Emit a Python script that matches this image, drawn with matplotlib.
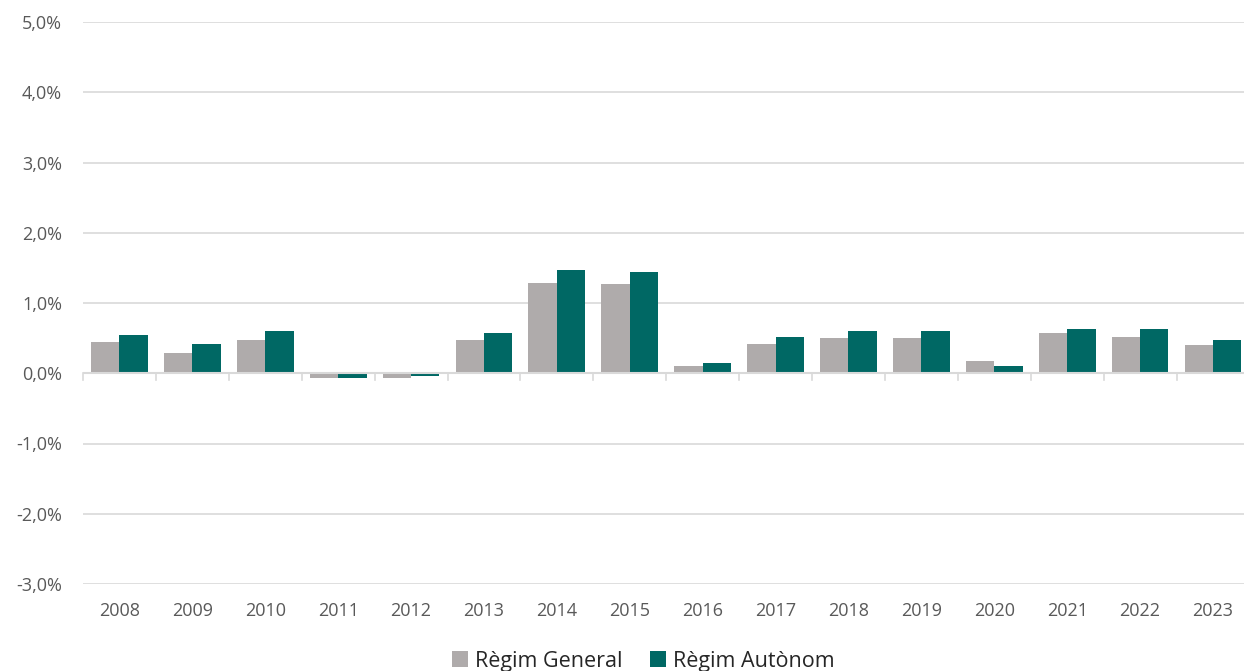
import matplotlib.pyplot as plt
import numpy as np
from matplotlib.ticker import FuncFormatter

# data (percent)
years = ["2008", "2009", "2010", "2011", "2012", "2013", "2014", "2015",
         "2016", "2017", "2018", "2019", "2020", "2021", "2022", "2023"]
regim_general = [0.45, 0.29, 0.47, -0.07, -0.07, 0.47, 1.29, 1.27,
                 0.11, 0.42, 0.50, 0.50, 0.17, 0.58, 0.52, 0.40]
regim_autonom = [0.55, 0.42, 0.60, -0.07, -0.04, 0.58, 1.47, 1.44,
                 0.14, 0.52, 0.60, 0.60, 0.11, 0.63, 0.63, 0.47]

gray = "#AFABAB"
green = "#006864"
text_col = "#595959"
grid_col = "#D9D9D9"

plt.rcParams["font.family"] = ["Open Sans", "DejaVu Sans"]

fig = plt.figure(figsize=(12.44, 6.71), dpi=100)
ax = fig.add_axes([83 / 1244, 87 / 671, 1166.4 / 1244, 562 / 671])

x = np.arange(len(years))
w = 0.39
ax.bar(x - w / 2, regim_general, w, color=gray, label="Règim General", zorder=3)
ax.bar(x + w / 2, regim_autonom, w, color=green, label="Règim Autònom", zorder=3)

ax.set_xlim(-0.5, len(years) - 0.5)
ax.set_ylim(-3, 5)
ax.set_yticks(np.arange(-3, 6, 1))
ax.yaxis.set_major_formatter(FuncFormatter(lambda v, p: f"{v:.1f}%".replace(".", ",")))
ax.grid(axis="y", color=grid_col, linewidth=1.2, zorder=0)
ax.axhline(0, color=grid_col, linewidth=1.5, zorder=4)

# category labels centred, small ticks at the boundaries
ax.set_xticks(x)
ax.set_xticklabels(years)
ax.tick_params(axis="x", length=0, pad=13, labelsize=13, labelcolor=text_col)
for b in np.arange(-0.5, len(years), 1):
    ax.plot([b, b], [0, -0.09], color=grid_col, linewidth=1.2, clip_on=False, zorder=4)
ax.tick_params(axis="y", length=0, pad=15, labelsize=13, labelcolor=text_col)

for s in ax.spines.values():
    s.set_visible(False)

fig.legend(loc="lower center", bbox_to_anchor=(0.517, -0.03), ncol=2, frameon=False,
           fontsize=15.5, handlelength=0.75, handleheight=0.75, handletextpad=0.3,
           columnspacing=1.3, labelcolor="#262626")

fig.savefig("out.png", dpi=100)
